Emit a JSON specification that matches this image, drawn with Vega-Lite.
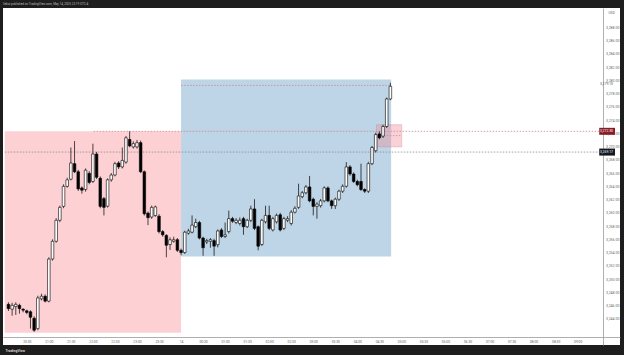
{
  "$schema": "https://vega.github.io/schema/vega-lite/v6.json",
  "width": 617,
  "height": 337,
  "autosize": {"type": "none"},
  "padding": {"left": 3, "top": 8, "right": 4, "bottom": 10},
  "background": "#1e1e1e",
  "config": {
    "view": {"fill": "#ffffff", "stroke": null},
    "font": "Roboto",
    "axis": {"labelOverlap": false, "labelBound": false}
  },
  "title": {"text": "Sekai published on TradingView.com, May 14, 2025 23:19 UTC-4", "anchor": "start", "fontSize": 3, "color": "#bdbdbd", "fontWeight": "normal", "offset": 2.5},
  "datasets": {
    "zones": [
      {"zone": "short", "t1": "2025-05-13T20:00:00Z", "t2": "2025-05-14T00:00:00Z", "lo": 3241.9, "hi": 3272.3},
      {"zone": "long", "t1": "2025-05-14T00:00:00Z", "t2": "2025-05-14T04:46:00Z", "lo": 3253.4, "hi": 3280.1}
    ],
    "entry": [
      {"t1": "2025-05-14T04:26:00Z", "t2": "2025-05-14T05:00:30Z", "lo": 3269.95, "hi": 3273.3}
    ],
    "levels": [
      {"kind": "red", "t1": "2025-05-13T22:01:00Z", "t2": "2025-05-14T09:29:20Z", "p": 3272.3},
      {"kind": "gray", "t1": "2025-05-13T20:00:00Z", "t2": "2025-05-14T09:29:20Z", "p": 3269.17},
      {"kind": "last", "t1": "2025-05-14T00:00:00Z", "t2": "2025-05-14T04:46:00Z", "p": 3279.22},
      {"kind": "mid", "t1": "2025-05-14T04:28:00Z", "t2": "2025-05-14T05:00:30Z", "p": 3271.66}
    ],
    "tags": [
      {"kind": "red", "t1": "2025-05-14T09:29:20Z", "t2": "2025-05-14T09:50:48Z", "p": 3272.3, "label": "3,272.30"},
      {"kind": "black", "t1": "2025-05-14T09:29:20Z", "t2": "2025-05-14T09:50:48Z", "p": 3269.17, "label": "3,269.17"},
      {"kind": "plain", "t1": "2025-05-14T09:29:20Z", "t2": "2025-05-14T09:50:48Z", "p": 3279.4, "label": "3,279.10"}
    ],
    "candles": [
      {"t": "2025-05-13T20:05:00Z", "o": 3246.20, "h": 3246.5, "l": 3245.2, "c": 3245.56},
      {"t": "2025-05-13T20:10:00Z", "o": 3245.47, "h": 3246.44, "l": 3244.49, "c": 3246.05},
      {"t": "2025-05-13T20:15:00Z", "o": 3245.86, "h": 3246.5, "l": 3244.6, "c": 3246.20},
      {"t": "2025-05-13T20:20:00Z", "o": 3246.05, "h": 3246.3, "l": 3244.8, "c": 3245.56},
      {"t": "2025-05-13T20:25:00Z", "o": 3245.47, "h": 3245.6, "l": 3245.0, "c": 3245.32},
      {"t": "2025-05-13T20:30:00Z", "o": 3245.22, "h": 3245.4, "l": 3244.7, "c": 3244.98},
      {"t": "2025-05-13T20:35:00Z", "o": 3245.08, "h": 3245.3, "l": 3242.54, "c": 3244.25},
      {"t": "2025-05-13T20:40:00Z", "o": 3244.10, "h": 3244.4, "l": 3242.05, "c": 3242.30},
      {"t": "2025-05-13T20:45:00Z", "o": 3242.54, "h": 3247.5, "l": 3242.3, "c": 3247.17},
      {"t": "2025-05-13T20:50:00Z", "o": 3247.03, "h": 3247.8, "l": 3246.8, "c": 3247.42},
      {"t": "2025-05-13T20:55:00Z", "o": 3247.42, "h": 3247.7, "l": 3246.5, "c": 3246.68},
      {"t": "2025-05-13T21:00:00Z", "o": 3246.68, "h": 3253.3, "l": 3246.5, "c": 3253.03},
      {"t": "2025-05-13T21:05:00Z", "o": 3253.03, "h": 3256.0, "l": 3252.8, "c": 3255.71},
      {"t": "2025-05-13T21:10:00Z", "o": 3255.71, "h": 3259.2, "l": 3255.5, "c": 3258.88},
      {"t": "2025-05-13T21:15:00Z", "o": 3258.88, "h": 3261.1, "l": 3258.6, "c": 3260.83},
      {"t": "2025-05-13T21:20:00Z", "o": 3260.98, "h": 3264.3, "l": 3260.7, "c": 3264.00},
      {"t": "2025-05-13T21:25:00Z", "o": 3264.00, "h": 3265.3, "l": 3263.8, "c": 3264.98},
      {"t": "2025-05-13T21:30:00Z", "o": 3265.08, "h": 3269.86, "l": 3264.9, "c": 3267.52},
      {"t": "2025-05-13T21:35:00Z", "o": 3267.42, "h": 3270.83, "l": 3266.0, "c": 3266.20},
      {"t": "2025-05-13T21:40:00Z", "o": 3266.20, "h": 3266.5, "l": 3263.3, "c": 3263.61},
      {"t": "2025-05-13T21:45:00Z", "o": 3263.76, "h": 3264.0, "l": 3262.9, "c": 3263.42},
      {"t": "2025-05-13T21:50:00Z", "o": 3263.52, "h": 3266.7, "l": 3263.2, "c": 3266.44},
      {"t": "2025-05-13T21:55:00Z", "o": 3265.96, "h": 3266.3, "l": 3264.3, "c": 3264.59},
      {"t": "2025-05-13T22:00:00Z", "o": 3264.74, "h": 3270.44, "l": 3264.5, "c": 3268.88},
      {"t": "2025-05-13T22:05:00Z", "o": 3268.88, "h": 3269.2, "l": 3265.1, "c": 3265.37},
      {"t": "2025-05-13T22:10:00Z", "o": 3265.22, "h": 3265.5, "l": 3260.7, "c": 3260.98},
      {"t": "2025-05-13T22:15:00Z", "o": 3262.15, "h": 3262.4, "l": 3259.61, "c": 3260.83},
      {"t": "2025-05-13T22:20:00Z", "o": 3261.0, "h": 3265.2, "l": 3260.8, "c": 3264.98},
      {"t": "2025-05-13T22:25:00Z", "o": 3264.98, "h": 3266.0, "l": 3264.7, "c": 3265.71},
      {"t": "2025-05-13T22:30:00Z", "o": 3265.71, "h": 3267.7, "l": 3265.5, "c": 3267.42},
      {"t": "2025-05-13T22:35:00Z", "o": 3267.52, "h": 3267.8, "l": 3266.6, "c": 3266.93},
      {"t": "2025-05-13T22:40:00Z", "o": 3266.93, "h": 3269.86, "l": 3266.7, "c": 3267.91},
      {"t": "2025-05-13T22:45:00Z", "o": 3267.66, "h": 3271.6, "l": 3267.4, "c": 3271.32},
      {"t": "2025-05-13T22:50:00Z", "o": 3271.08, "h": 3272.30, "l": 3269.9, "c": 3270.10},
      {"t": "2025-05-13T22:55:00Z", "o": 3269.95, "h": 3270.8, "l": 3269.7, "c": 3270.44},
      {"t": "2025-05-13T23:00:00Z", "o": 3269.95, "h": 3271.0, "l": 3269.7, "c": 3270.59},
      {"t": "2025-05-13T23:05:00Z", "o": 3270.59, "h": 3270.9, "l": 3266.0, "c": 3266.20},
      {"t": "2025-05-13T23:10:00Z", "o": 3266.20, "h": 3266.4, "l": 3259.6, "c": 3259.86},
      {"t": "2025-05-13T23:15:00Z", "o": 3259.96, "h": 3260.2, "l": 3258.15, "c": 3259.27},
      {"t": "2025-05-13T23:20:00Z", "o": 3259.37, "h": 3261.1, "l": 3259.1, "c": 3260.83},
      {"t": "2025-05-13T23:25:00Z", "o": 3259.6, "h": 3261.1, "l": 3259.4, "c": 3260.9},
      {"t": "2025-05-13T23:30:00Z", "o": 3259.5, "h": 3259.8, "l": 3256.9, "c": 3257.17},
      {"t": "2025-05-13T23:35:00Z", "o": 3257.17, "h": 3257.4, "l": 3256.4, "c": 3256.69},
      {"t": "2025-05-13T23:40:00Z", "o": 3256.59, "h": 3256.8, "l": 3253.3, "c": 3255.12},
      {"t": "2025-05-13T23:45:00Z", "o": 3255.22, "h": 3256.3, "l": 3254.4, "c": 3255.95},
      {"t": "2025-05-13T23:50:00Z", "o": 3255.71, "h": 3256.4, "l": 3255.5, "c": 3255.95},
      {"t": "2025-05-13T23:55:00Z", "o": 3255.95, "h": 3256.2, "l": 3254.1, "c": 3254.35},
      {"t": "2025-05-14T00:00:00Z", "o": 3254.35, "h": 3254.6, "l": 3253.6, "c": 3254.00},
      {"t": "2025-05-14T00:05:00Z", "o": 3254.01, "h": 3257.3, "l": 3253.8, "c": 3257.08},
      {"t": "2025-05-14T00:10:00Z", "o": 3256.93, "h": 3257.6, "l": 3256.7, "c": 3257.27},
      {"t": "2025-05-14T00:15:00Z", "o": 3257.08, "h": 3259.62, "l": 3256.9, "c": 3258.15},
      {"t": "2025-05-14T00:20:00Z", "o": 3257.91, "h": 3259.13, "l": 3257.7, "c": 3258.54},
      {"t": "2025-05-14T00:25:00Z", "o": 3258.54, "h": 3258.8, "l": 3256.0, "c": 3256.20},
      {"t": "2025-05-14T00:30:00Z", "o": 3256.20, "h": 3256.4, "l": 3253.52, "c": 3254.74},
      {"t": "2025-05-14T00:35:00Z", "o": 3255.62, "h": 3256.1, "l": 3255.3, "c": 3255.81},
      {"t": "2025-05-14T00:40:00Z", "o": 3255.71, "h": 3256.2, "l": 3254.74, "c": 3255.96},
      {"t": "2025-05-14T00:45:00Z", "o": 3255.81, "h": 3256.1, "l": 3253.52, "c": 3254.98},
      {"t": "2025-05-14T00:50:00Z", "o": 3255.2, "h": 3257.5, "l": 3254.8, "c": 3257.27},
      {"t": "2025-05-14T00:55:00Z", "o": 3257.42, "h": 3257.7, "l": 3256.2, "c": 3256.44},
      {"t": "2025-05-14T01:00:00Z", "o": 3256.44, "h": 3258.54, "l": 3256.2, "c": 3256.69},
      {"t": "2025-05-14T01:05:00Z", "o": 3257.18, "h": 3260.35, "l": 3256.9, "c": 3259.13},
      {"t": "2025-05-14T01:10:00Z", "o": 3259.13, "h": 3259.4, "l": 3258.5, "c": 3258.74},
      {"t": "2025-05-14T01:15:00Z", "o": 3258.54, "h": 3259.2, "l": 3258.3, "c": 3258.88},
      {"t": "2025-05-14T01:20:00Z", "o": 3258.40, "h": 3259.3, "l": 3258.1, "c": 3258.88},
      {"t": "2025-05-14T01:25:00Z", "o": 3259.13, "h": 3259.4, "l": 3256.69, "c": 3257.91},
      {"t": "2025-05-14T01:30:00Z", "o": 3257.91, "h": 3259.1, "l": 3257.7, "c": 3258.88},
      {"t": "2025-05-14T01:35:00Z", "o": 3258.88, "h": 3261.08, "l": 3258.6, "c": 3260.59},
      {"t": "2025-05-14T01:40:00Z", "o": 3260.59, "h": 3262.06, "l": 3257.4, "c": 3257.66},
      {"t": "2025-05-14T01:45:00Z", "o": 3257.91, "h": 3258.1, "l": 3254.35, "c": 3254.98},
      {"t": "2025-05-14T01:50:00Z", "o": 3255.23, "h": 3259.1, "l": 3255.0, "c": 3258.88},
      {"t": "2025-05-14T01:55:00Z", "o": 3258.64, "h": 3261.08, "l": 3258.4, "c": 3259.62},
      {"t": "2025-05-14T02:00:00Z", "o": 3259.62, "h": 3261.08, "l": 3257.4, "c": 3257.66},
      {"t": "2025-05-14T02:05:00Z", "o": 3257.42, "h": 3259.4, "l": 3257.2, "c": 3259.13},
      {"t": "2025-05-14T02:10:00Z", "o": 3258.64, "h": 3259.9, "l": 3258.4, "c": 3259.62},
      {"t": "2025-05-14T02:15:00Z", "o": 3259.71, "h": 3260.0, "l": 3257.2, "c": 3257.42},
      {"t": "2025-05-14T02:20:00Z", "o": 3257.66, "h": 3259.4, "l": 3257.4, "c": 3259.13},
      {"t": "2025-05-14T02:25:00Z", "o": 3258.88, "h": 3259.5, "l": 3258.6, "c": 3259.13},
      {"t": "2025-05-14T02:30:00Z", "o": 3258.40, "h": 3260.4, "l": 3258.1, "c": 3260.10},
      {"t": "2025-05-14T02:35:00Z", "o": 3260.10, "h": 3261.0, "l": 3259.9, "c": 3260.69},
      {"t": "2025-05-14T02:40:00Z", "o": 3260.83, "h": 3264.40, "l": 3260.6, "c": 3262.54},
      {"t": "2025-05-14T02:45:00Z", "o": 3262.44, "h": 3263.3, "l": 3262.2, "c": 3263.03},
      {"t": "2025-05-14T02:50:00Z", "o": 3263.03, "h": 3264.2, "l": 3262.8, "c": 3263.91},
      {"t": "2025-05-14T02:55:00Z", "o": 3263.91, "h": 3265.57, "l": 3261.6, "c": 3261.81},
      {"t": "2025-05-14T03:00:00Z", "o": 3262.06, "h": 3262.3, "l": 3259.62, "c": 3260.98},
      {"t": "2025-05-14T03:05:00Z", "o": 3260.98, "h": 3261.6, "l": 3259.13, "c": 3261.32},
      {"t": "2025-05-14T03:10:00Z", "o": 3261.08, "h": 3262.1, "l": 3260.8, "c": 3261.81},
      {"t": "2025-05-14T03:15:00Z", "o": 3261.81, "h": 3264.0, "l": 3261.6, "c": 3263.76},
      {"t": "2025-05-14T03:20:00Z", "o": 3263.76, "h": 3264.0, "l": 3261.6, "c": 3261.81},
      {"t": "2025-05-14T03:25:00Z", "o": 3261.81, "h": 3262.0, "l": 3260.6, "c": 3261.08},
      {"t": "2025-05-14T03:30:00Z", "o": 3261.08, "h": 3262.3, "l": 3260.59, "c": 3262.06},
      {"t": "2025-05-14T03:35:00Z", "o": 3262.06, "h": 3263.5, "l": 3261.8, "c": 3263.27},
      {"t": "2025-05-14T03:40:00Z", "o": 3263.27, "h": 3264.3, "l": 3263.0, "c": 3264.01},
      {"t": "2025-05-14T03:45:00Z", "o": 3264.01, "h": 3267.66, "l": 3263.8, "c": 3266.93},
      {"t": "2025-05-14T03:50:00Z", "o": 3266.93, "h": 3267.2, "l": 3265.6, "c": 3265.86},
      {"t": "2025-05-14T03:55:00Z", "o": 3265.86, "h": 3266.1, "l": 3264.5, "c": 3264.74},
      {"t": "2025-05-14T04:00:00Z", "o": 3264.74, "h": 3265.0, "l": 3264.0, "c": 3264.25},
      {"t": "2025-05-14T04:05:00Z", "o": 3264.74, "h": 3267.42, "l": 3263.3, "c": 3263.52},
      {"t": "2025-05-14T04:10:00Z", "o": 3263.52, "h": 3263.7, "l": 3263.0, "c": 3263.27},
      {"t": "2025-05-14T04:15:00Z", "o": 3263.27, "h": 3267.7, "l": 3263.0, "c": 3267.42},
      {"t": "2025-05-14T04:20:00Z", "o": 3267.42, "h": 3270.1, "l": 3267.2, "c": 3269.86},
      {"t": "2025-05-14T04:25:00Z", "o": 3269.37, "h": 3272.1, "l": 3269.1, "c": 3271.81},
      {"t": "2025-05-14T04:30:00Z", "o": 3271.91, "h": 3272.3, "l": 3271.1, "c": 3271.32},
      {"t": "2025-05-14T04:35:00Z", "o": 3271.57, "h": 3273.3, "l": 3271.3, "c": 3273.03},
      {"t": "2025-05-14T04:40:00Z", "o": 3273.03, "h": 3277.4, "l": 3272.8, "c": 3277.18},
      {"t": "2025-05-14T04:45:00Z", "o": 3277.18, "h": 3279.62, "l": 3277.0, "c": 3279.10}
    ]
  },
  "layer": [
    {
      "data": {"name": "zones"},
      "mark": {"type": "rect", "clip": true},
      "encoding": {
        "x": {
          "field": "t1", "type": "temporal", "title": "TradingView",
          "scale": {"type": "utc", "domain": [1747166664000, 1747216248000]},
          "axis": {
            "orient": "bottom", "offset": -8, "grid": false, "tickCount": 100,
            "values": [1747168200000, 1747170000000, 1747171800000, 1747173600000, 1747175400000, 1747177200000, 1747179000000, 1747180800000, 1747182600000, 1747184400000, 1747186200000, 1747188000000, 1747189800000, 1747191600000, 1747193400000, 1747195200000, 1747197000000, 1747198800000, 1747200600000, 1747202400000, 1747204200000, 1747206000000, 1747207800000, 1747209600000, 1747211400000, 1747213200000],
            "labelExpr": "utcFormat(datum.value,'%H:%M')=='00:00' ? '14' : utcFormat(datum.value,'%H:%M')",
            "labelFontSize": 3.3, "labelColor": "#666666", "labelPadding": 2, "tickSize": 0,
            "labelOverlap": false, "labelFlush": false,
            "domainColor": "#9a9a9a", "domainWidth": 0.8,
            "titleFontSize": 3.5, "titleColor": "#d0d0d0", "titleFontWeight": "bold",
            "titleX": 2, "titleY": 13, "titleAlign": "left", "titleAnchor": "start", "titleBaseline": "middle"
          }
        },
        "x2": {"field": "t2"},
        "y": {
          "field": "lo", "type": "quantitative", "title": "USD",
          "scale": {"domain": [3240.82, 3290.15], "nice": false, "zero": false},
          "axis": {
            "orient": "right", "offset": -17, "grid": false, "tickCount": 100,
            "values": [3244, 3246, 3248, 3250, 3252, 3254, 3256, 3258, 3260, 3262, 3264, 3266, 3268, 3270, 3272, 3274, 3276, 3278, 3280, 3282, 3284, 3286, 3288],
            "format": ",.2f", "labelFontSize": 3.5, "labelColor": "#666666", "labelPadding": 2.5, "tickSize": 0,
            "labelOverlap": false, "labelFlush": false,
            "domainColor": "#9a9a9a", "domainWidth": 0.8,
            "titleAngle": 0, "titleX": 5, "titleY": 4, "titleAlign": "left", "titleBaseline": "middle",
            "titleFontSize": 3.2, "titleFontWeight": "normal", "titleColor": "#555555"
          }
        },
        "y2": {"field": "hi"},
        "fill": {"condition": {"test": "datum.zone == 'short'", "value": "#fdd0d4"}, "value": "#bdd5e6"}
      }
    },
    {
      "data": {"name": "levels"},
      "mark": {"type": "rule", "clip": true, "strokeDash": [1.5, 1.5], "strokeWidth": 0.8},
      "encoding": {
        "x": {"field": "t1", "type": "temporal", "title": "TradingView"},
        "x2": {"field": "t2"},
        "y": {"field": "p", "type": "quantitative", "title": "USD"},
        "stroke": {"condition": {"test": "datum.kind == 'gray'", "value": "#8a8a8a"}, "value": "#c88a90"}
      }
    },
    {
      "data": {"name": "entry"},
      "mark": {"type": "rect", "fill": "#ef8d98", "fillOpacity": 0.4, "stroke": "#b87d8a", "strokeWidth": 0.5, "strokeOpacity": 0.6},
      "encoding": {
        "x": {"field": "t1", "type": "temporal", "title": "TradingView"},
        "x2": {"field": "t2"},
        "y": {"field": "lo", "type": "quantitative", "title": "USD"},
        "y2": {"field": "hi"}
      }
    },
    {
      "data": {"name": "candles"},
      "mark": {"type": "rule", "color": "#000000", "strokeWidth": 0.7},
      "encoding": {
        "x": {"field": "t", "type": "temporal", "title": "TradingView"},
        "y": {"field": "l", "type": "quantitative", "title": "USD"},
        "y2": {"field": "h"}
      }
    },
    {
      "data": {"name": "candles"},
      "mark": {"type": "bar", "size": 2.6, "stroke": "#000000", "strokeWidth": 0.6},
      "encoding": {
        "x": {"field": "t", "type": "temporal", "title": "TradingView"},
        "y": {"field": "o", "type": "quantitative", "title": "USD"},
        "y2": {"field": "c"},
        "fill": {"condition": {"test": "datum.c >= datum.o", "value": "#ffffff"}, "value": "#000000"}
      }
    },
    {
      "data": {"name": "tags"},
      "transform": [{"filter": "datum.kind != 'plain'"}],
      "mark": {"type": "bar", "size": 7, "orient": "horizontal"},
      "encoding": {
        "x": {"field": "t1", "type": "temporal", "title": "TradingView"},
        "x2": {"field": "t2"},
        "y": {"field": "p", "type": "quantitative", "title": "USD"},
        "fill": {"condition": {"test": "datum.kind == 'red'", "value": "#8a1c26"}, "value": "#131722"}
      }
    },
    {
      "data": {"name": "tags"},
      "mark": {"type": "text", "align": "right", "dx": -2, "fontSize": 3.4, "baseline": "middle"},
      "encoding": {
        "x": {"field": "t2", "type": "temporal", "title": "TradingView"},
        "y": {"field": "p", "type": "quantitative", "title": "USD"},
        "text": {"field": "label"},
        "fill": {"condition": {"test": "datum.kind == 'plain'", "value": "#555555"}, "value": "#ffffff"}
      }
    }
  ]
}
